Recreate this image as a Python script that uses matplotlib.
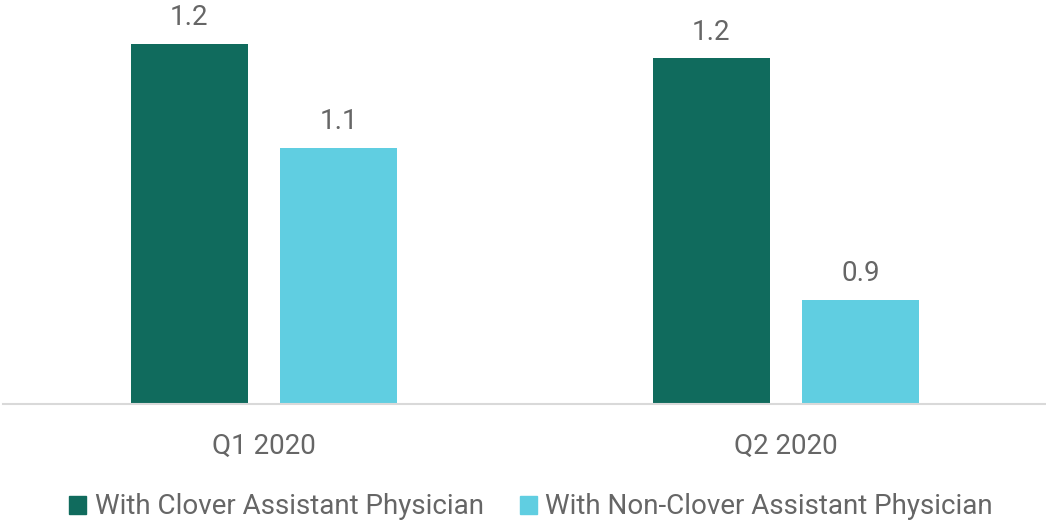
import numpy as np
import matplotlib
matplotlib.use("Agg")
import matplotlib.pyplot as plt
from matplotlib.patches import Patch

# Data
quarters = ["Q1 2020", "Q2 2020"]
clover = [1.237, 1.218]       # With Clover Assistant Physician
non_clover = [1.10, 0.90]     # With Non-Clover Assistant Physician
series_names = ["With Clover Assistant Physician", "With Non-Clover Assistant Physician"]

GREEN = "#106b5d"
CYAN = "#60cee1"
TEXT = "#666666"
Y_MIN, Y_MAX = 0.763, 1.295
FS = 20

plt.rcParams["font.family"] = ["Roboto", "DejaVu Sans"]

fig = plt.figure(figsize=(10.46, 5.24), dpi=100)
ax = fig.add_axes([3 / 1046, 120 / 524, 1044 / 1046, 404 / 524])

x = np.arange(len(quarters))
w = 0.224
off = 0.143
ax.bar(x - off, [v - Y_MIN for v in clover], w, bottom=Y_MIN, color=GREEN)
ax.bar(x + off, [v - Y_MIN for v in non_clover], w, bottom=Y_MIN, color=CYAN)

# Value labels
for xs, vals in ((x - off, clover), (x + off, non_clover)):
    for xi, v in zip(xs, vals):
        ax.annotate(f"{v:.1f}", (xi, v), xytext=(0, 13.5), textcoords="offset points",
                    ha="center", va="baseline", fontsize=FS, color=TEXT)

ax.set_xlim(-0.5, 1.5)
ax.set_ylim(Y_MIN, Y_MAX)
ax.set_xticks(x)
ax.set_xticklabels(quarters, fontsize=FS, color=TEXT)
ax.tick_params(axis="x", length=0, pad=21)
ax.set_yticks([])
for s in ("top", "right", "left"):
    ax.spines[s].set_visible(False)
ax.spines["bottom"].set_color("#d9d9d9")
ax.spines["bottom"].set_linewidth(1.5)

handles = [Patch(color=GREEN), Patch(color=CYAN)]
fig.legend(handles, series_names, loc="center", bbox_to_anchor=(531 / 1046, 1 - 507 / 524),
           ncol=2, frameon=False, fontsize=FS, labelcolor=TEXT,
           handlelength=0.62, handleheight=0.62, handletextpad=0.3, columnspacing=1.3)

fig.savefig("out.png", dpi=100)
